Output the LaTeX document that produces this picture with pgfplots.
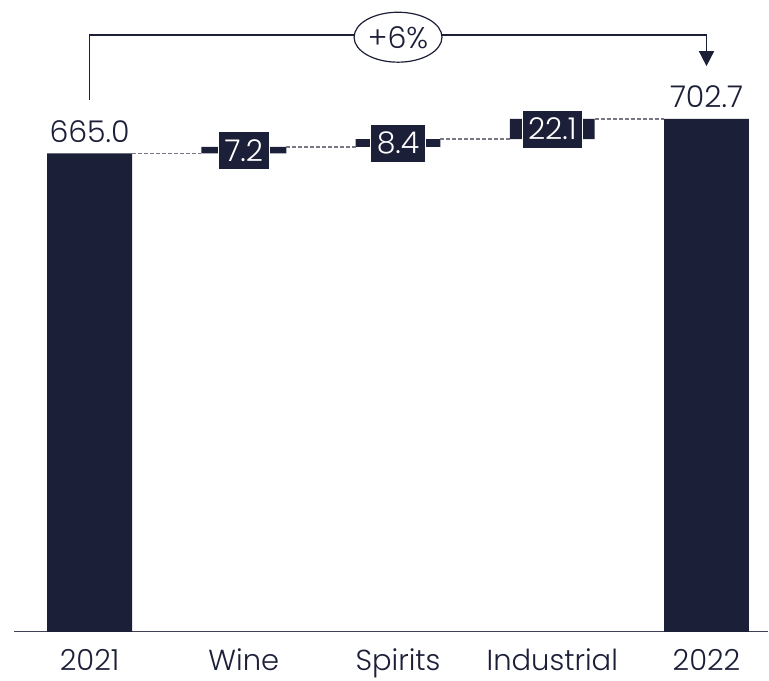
\documentclass[border=0pt]{standalone}
\usepackage{fontspec}
\setmainfont{Poppins Light}
\usepackage{pgfplots}
\pgfplotsset{compat=1.18}
\usetikzlibrary{arrows.meta,shapes.geometric}
\definecolor{navy}{RGB}{28,31,56}
\definecolor{dashc}{RGB}{120,120,132}
\begin{document}
\begin{tikzpicture}[x=1pt,y=1pt]
\path (0,0) rectangle (769,681);
\pgfplotsset{wf/.style={at={(14pt,49pt)}, anchor=south west, scale only axis,
  width=755pt, height=632pt, xmin=-0.49, xmax=4.4, ymin=145, ymax=832}}
\begin{axis}[wf, ybar stacked, bar width=85pt, bar shift=0pt,
  axis y line=none, axis x line=bottom,
  x axis line style={-, line width=1.6pt, color=navy!85},
  xtick={0,1,2,3,4}, xticklabels={2021,Wine,Spirits,Industrial,2022},
  major tick length=0pt,
  xticklabel style={font=\fontsize{29}{34}\selectfont, text=navy, inner sep=0pt,
    anchor=north, yshift=-17pt, text height=22pt, text depth=0pt}]
\addplot[draw=none, fill=none] coordinates {(0,0) (1,665) (2,672.2) (3,680.6) (4,0)};
\addplot[fill=navy, draw=none] coordinates {(0,665) (1,7.2) (2,8.4) (3,22.1) (4,702.7)};
\end{axis}
\begin{axis}[wf, hide axis, clip=false]
\addplot[dashc, line width=1.5pt, dash pattern=on 4pt off 2pt] coordinates {(0.275,665) (0.725,665)};
\addplot[dashc, line width=1.5pt, dash pattern=on 4pt off 2pt] coordinates {(1.275,672.2) (1.725,672.2)};
\addplot[dashc, line width=1.5pt, dash pattern=on 4pt off 2pt] coordinates {(2.275,680.6) (2.725,680.6)};
\addplot[dashc, line width=1.5pt, dash pattern=on 4pt off 2pt] coordinates {(3.275,702.7) (3.725,702.7)};
\addplot[navy, line width=1.6pt, -{Triangle[length=15pt,width=15pt]}] coordinates {(0,723) (0,794) (4,794) (4,760)};
\node[ellipse, draw=navy, line width=1.2pt, fill=white, minimum width=88pt, minimum height=50pt, inner sep=0pt,
  font=\fontsize{30}{34}\selectfont, text=navy] at (axis cs:2,791.5) {+6\%};
\tikzset{vl/.style={font=\fontsize{30}{34}\selectfont, text=navy, anchor=base, inner sep=0pt}}
\node[vl] at (axis cs:0,677) {665.0};
\node[vl] at (axis cs:4,715.5) {702.7};
\tikzset{bl/.style={fill=navy, draw=white, line width=0.6pt, text=white, font=\fontsize{30}{34}\selectfont,
  inner xsep=6pt, inner ysep=0pt, minimum height=38pt, text height=22pt, text depth=0pt}}
\node[bl] at (axis cs:1,668.6) {7.2};
\node[bl] at (axis cs:2,676.4) {8.4};
\node[bl] at (axis cs:3,691.65) {22.1};
\end{axis}
\end{tikzpicture}
\end{document}
